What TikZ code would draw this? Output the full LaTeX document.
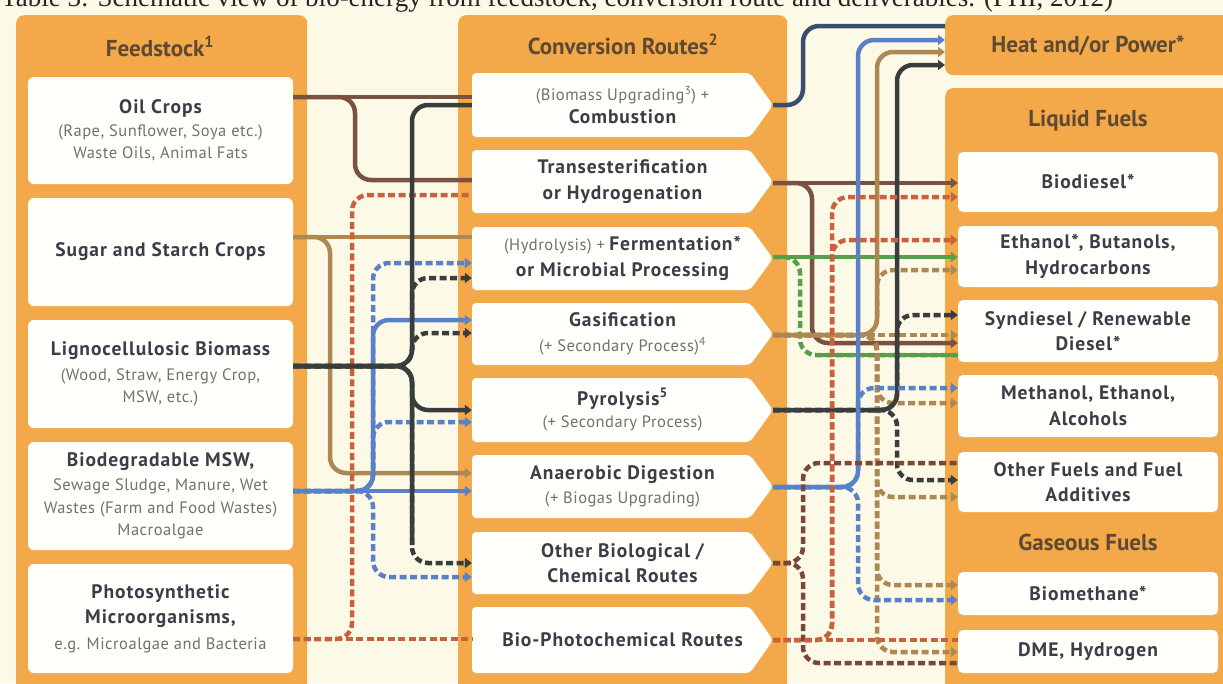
\documentclass[tikz,border=0pt]{standalone}
\usepackage{fontspec}
\setmainfont{PT Sans}
\newfontfamily\capfont{Liberation Serif}
\newfontfamily\titlefont[LetterSpace=5]{PT Sans}
\newfontfamily\subfont[LetterSpace=3]{PT Sans}
\usetikzlibrary{arrows.meta}

\definecolor{bgcream}{HTML}{FCF9E6}
\definecolor{panelor}{HTML}{F3A94A}
\definecolor{boxwhite}{HTML}{FFFFFC}
\definecolor{headtxt}{HTML}{5E4A32}
\definecolor{titletxt}{HTML}{3C3D46}
\definecolor{subtxt}{HTML}{74706B}
\definecolor{cbrown}{HTML}{7B5142}
\definecolor{cblack}{HTML}{3A3D3D}
\definecolor{ctan}{HTML}{AE8853}
\definecolor{cred}{HTML}{C9613F}
\definecolor{cblue}{HTML}{5A80C8}
\definecolor{cgreen}{HTML}{58A048}
\definecolor{cnavy}{HTML}{3A4C70}
\definecolor{cmaroon}{HTML}{7A4838}

% line styles of the two kinds of text inside the boxes
\newcommand\bx[1]{{\titlefont\fontsize{19.5}{22.5}\selectfont\bfseries\color{titletxt}#1}}
\newcommand\sx[1]{{\subfont\fontsize{16.5}{22.5}\selectfont\color{subtxt}#1}}

\tikzset{
  panel/.style={fill=panelor, rounded corners=8pt, inner sep=0pt, anchor=north west},
  head/.style={font=\fontsize{23}{26}\selectfont\bfseries, text=headtxt, inner sep=0pt},
  fsbox/.style={fill=boxwhite, rounded corners=6pt, minimum width=265pt, inner sep=0pt,
    align=center, font=\fontsize{16.5}{22.5}\selectfont},
  cvbox/.style={minimum width=301pt, inner sep=0pt, align=center,
    font=\fontsize{16.5}{22.5}\selectfont},
  prbox/.style={fill=boxwhite, rounded corners=5pt, minimum width=260pt, inner sep=0pt,
    align=center, font=\fontsize{16.5}{22.5}\selectfont},
  route/.style={line width=4.5pt, rounded corners=16pt},
  dev/.style={dash pattern=on 7pt off 3.5pt},
  tip/.style={-{Triangle[length=7pt,width=10pt]}}
}

\begin{document}
\begin{tikzpicture}[x=1pt,y=-1pt]
\useasboundingbox (0,0) rectangle (1223,683);
\clip (0,0) rectangle (1223,683);
\fill[bgcream] (0,0) rectangle (1223,683);

% caption line above the chart
\node[anchor=base west, inner sep=0pt, font=\capfont\fontsize{27}{30}\selectfont, text=black!85] (cap) at (1,6)
  {Table 3: Schematic view of bio-energy from feedstock, conversion route and deliverables. (PHI, 2012)};

% column panels
\node[panel, minimum width=291pt, minimum height=700pt] (pfs) at (16,15) {};
\node[panel, minimum width=329pt, minimum height=700pt] (pcv) at (458,15) {};
\node[panel, minimum width=290pt, minimum height=60pt] (pheat) at (945,15) {};
\node[panel, minimum width=290pt, minimum height=620pt] (pliq) at (945,88) {};

% headers
\node[head] (hfs) at (160,46) {Feedstock\textsuperscript{1}};
\node[head] (hcv) at (623,44) {Conversion Routes\textsuperscript{2}};
\node[head] (hheat) at (1088,46) {Heat and/or Power*};
\node[head] (hliq) at (1088,121) {Liquid Fuels};
\node[head] (hgas) at (1088,542) {Gaseous Fuels};

% feedstock boxes
\node[fsbox, minimum height=107pt] (fs1) at (160.5,130.5)
  {\bx{Oil Crops}\\\sx{(Rape, Sunflower, Soya etc.)}\\\sx{Waste Oils, Animal Fats}};
\node[fsbox, minimum height=108pt] (fs2) at (160.5,252) {\bx{Sugar and Starch Crops}};
\node[fsbox, minimum height=108pt] (fs3) at (160.5,374)
  {\bx{Lignocellulosic Biomass}\\[2pt]\sx{(Wood, Straw, Energy Crop,}\\\sx{MSW, etc.)}};
\node[fsbox, minimum height=108pt] (fs4) at (160.5,496)
  {\bx{Biodegradable MSW,}\\[2pt]\sx{Sewage Sludge, Manure, Wet}\\\sx{Wastes (Farm and Food Wastes)}\\\sx{Macroalgae}};
\node[fsbox, minimum height=109pt] (fs5) at (160.5,618.5)
  {\bx{Photosynthetic}\\[3pt]\bx{Microorganisms,}\\[3pt]\sx{e.g. Microalgae and Bacteria}};

% conversion route arrows (white pentagons)
\foreach \yc/\hh in {105/64, 181.5/63, 258.5/63, 334/62, 410/64, 486.5/63, 563/62, 640/66}
  \fill[boxwhite, rounded corners=4pt]
    (472,\yc+\hh/2) -- (472,\yc-\hh/2) -- (750,\yc-\hh/2) -- (773,\yc) -- (750,\yc+\hh/2) -- cycle;

\node[cvbox, minimum height=64pt] (cv1) at (622.5,105)
  {\sx{(Biomass Upgrading\textsuperscript{3}) +}\\\bx{Combustion}};
\node[cvbox, minimum height=63pt] (cv2) at (622.5,181.5)
  {\bx{Transesterification}\\[3pt]\bx{or Hydrogenation}};
\node[cvbox, minimum height=63pt] (cv3) at (622.5,258.5)
  {\sx{(Hydrolysis) +} \bx{Fermentation*}\\[3pt]\bx{or Microbial Processing}};
\node[cvbox, minimum height=62pt] (cv4) at (622.5,334)
  {\bx{Gasification}\\[2pt]\sx{(+ Secondary Process)\textsuperscript{4}}};
\node[cvbox, minimum height=64pt] (cv5) at (622.5,410)
  {\bx{Pyrolysis\textsuperscript{5}}\\\sx{(+ Secondary Process)}};
\node[cvbox, minimum height=63pt] (cv6) at (622.5,486.5)
  {\bx{Anaerobic Digestion}\\[2pt]\sx{(+ Biogas Upgrading)}};
\node[cvbox, minimum height=62pt] (cv7) at (622.5,563)
  {\bx{Other Biological /}\\[3pt]\bx{Chemical Routes}};
\node[cvbox, minimum height=66pt] (cv8) at (622.5,640) {\bx{Bio-Photochemical Routes}};

% products
\node[prbox, minimum height=60pt] (pr1) at (1088,182) {\bx{Biodiesel*}};
\node[prbox, minimum height=61pt] (pr2) at (1088,256.5) {\bx{Ethanol*, Butanols,}\\[3pt]\bx{Hydrocarbons}};
\node[prbox, minimum height=62pt] (pr3) at (1088,331) {\bx{Syndiesel / Renewable}\\[3pt]\bx{Diesel*}};
\node[prbox, minimum height=62pt] (pr4) at (1088,406) {\bx{Methanol, Ethanol,}\\[3pt]\bx{Alcohols}};
\node[prbox, minimum height=60pt] (pr5) at (1088,482) {\bx{Other Fuels and Fuel}\\[3pt]\bx{Additives}};
\node[prbox, minimum height=43pt] (pr6) at (1088,593.5) {\bx{Biomethane*}};
\node[prbox, minimum height=43pt] (pr7) at (1088,651.5) {\bx{DME, Hydrogen}};

% ---------- feedstock -> conversion ----------
% oil crops
\draw[route, cbrown] (fs1.east |- 0,97) -- (cv1.west |- 0,97);
\draw[route, cbrown] (fs1.east |- 0,97) -- (355,97) -- (355,180) -- (cv2.west |- 0,180);
% sugar and starch crops
\draw[route, ctan] (fs2.east |- 0,237) -- (cv3.west |- 0,237);
\draw[route, ctan, tip] (fs2.east |- 0,237) -- (330,237) -- (330,473) -- (cv6.west |- 0,473);
% photosynthetic microorganisms
\draw[route, dev, cred] (fs5.east |- 0,639) -- (cv8.west |- 0,639);
\draw[route, dev, cred] (fs5.east |- 0,639) -- (352,639) -- (352,195) -- (cv2.west |- 0,195);
% biodegradable MSW
\draw[route, dev, cblue, tip] (fs4.east |- 0,491) -- (373,491) -- (373,263) -- (cv3.west |- 0,263);
\draw[route, dev, cblue, tip] (fs4.east |- 0,491) -- (373,491) -- (373,422) -- (cv5.west |- 0,422);
\draw[route, dev, cblue, tip] (fs4.east |- 0,491) -- (373,491) -- (373,577) -- (cv7.west |- 0,577);
\draw[route, cblue, tip] (fs4.east |- 0,491) -- (373,491) -- (373,320) -- (cv4.west |- 0,320);
\draw[route, cblue, tip] (fs4.east |- 0,491) -- (cv6.west |- 0,491);
% lignocellulosic biomass
\draw[route, dev, cblack, tip] (fs3.east |- 0,366) -- (412,366) -- (412,278) -- (cv3.west |- 0,278);
\draw[route, dev, cblack, tip] (fs3.east |- 0,366) -- (412,366) -- (412,333) -- (cv4.west |- 0,333);
\draw[route, dev, cblack, tip] (fs3.east |- 0,366) -- (412,366) -- (412,563) -- (cv7.west |- 0,563);
\draw[route, cblack] (fs3.east |- 0,366) -- (412,366) -- (412,105) -- (cv1.west |- 0,105);
\draw[route, cblack, tip] (fs3.east |- 0,366) -- (412,366) -- (412,410) -- (cv5.west |- 0,410);
\draw[route, cblack] (fs3.east |- 0,366) -- (412,366) -- (412,545);

% ---------- conversion -> products ----------
% combustion
\draw[route, cnavy] (cv1.east) -- (803,105) -- (803,26) -- (pheat.west |- 0,26);
% transesterification
\draw[route, cbrown, tip] (cv2.east |- 0,183) -- (pr1.west |- 0,183);
\draw[route, cbrown, tip] (cv2.east |- 0,183) -- (812,183) -- (812,343) -- (pr3.west |- 0,343);
% fermentation
\draw[route, dev, cgreen] (cv3.east |- 0,257) -- (800,257) -- (800,355) -- (pr3.west |- 0,355);
\draw[route, cgreen] (pr3.west |- 0,355) -- (816,355);
\draw[route, cgreen, tip] (cv3.east |- 0,257) -- (pr2.west |- 0,257);
% gasification
\draw[route, dev, ctan, tip] (cv4.east |- 0,335) -- (pr3.west |- 0,335);
\draw[route, dev, ctan, tip] (cv4.east |- 0,335) -- (877,335) -- (877,270) -- (pr2.west |- 0,270);
\draw[route, dev, ctan, tip] (cv4.east |- 0,335) -- (877,335) -- (877,403) -- (pr4.west |- 0,403);
\draw[route, dev, ctan, tip] (cv4.east |- 0,335) -- (877,335) -- (877,497) -- (pr5.west |- 0,497);
\draw[route, dev, ctan, tip] (cv4.east |- 0,335) -- (877,335) -- (877,585) -- (pr6.west |- 0,585);
\draw[route, dev, ctan, tip] (cv4.east |- 0,335) -- (877,335) -- (877,652) -- (pr7.west |- 0,652);
\draw[route, ctan, tip] (cv4.east |- 0,335) -- (877,335) -- (877,52) -- (pheat.west |- 0,52);
% pyrolysis
\draw[route, dev, cblack, tip] (cv5.east) -- (897,410) -- (897,315) -- (pr3.west |- 0,315);
\draw[route, dev, cblack, tip] (cv5.east) -- (897,410) -- (897,480) -- (pr5.west |- 0,480);
\draw[route, cblack, tip] (cv5.east) -- (897,410) -- (897,65) -- (pheat.west |- 0,65);
% anaerobic digestion
\draw[route, dev, cblue, tip] (cv6.east |- 0,487) -- (858,487) -- (858,388) -- (pr4.west |- 0,388);
\draw[route, dev, cblue, tip] (cv6.east |- 0,487) -- (858,487) -- (858,600) -- (pr6.west |- 0,600);
\draw[route, cblue, tip] (cv6.east |- 0,487) -- (858,487) -- (858,40) -- (pheat.west |- 0,40);
% other biological / chemical routes
\draw[route, dev, cmaroon] (cv7.east) -- (803,563) -- (803,463) -- (pr5.west |- 0,463);
\draw[route, dev, cmaroon] (cv7.east) -- (803,563) -- (803,663) -- (pr7.west |- 0,663);
% bio-photochemical routes
\draw[route, dev, cred] (cv8.east) -- (pr7.west |- 0,640);
\draw[route, dev, cred, tip] (cv8.east) -- (832,640) -- (832,197) -- (pr1.west |- 0,197);
\draw[route, dev, cred, tip] (cv8.east) -- (832,640) -- (832,240) -- (pr2.west |- 0,240);
\end{tikzpicture}
\end{document}
